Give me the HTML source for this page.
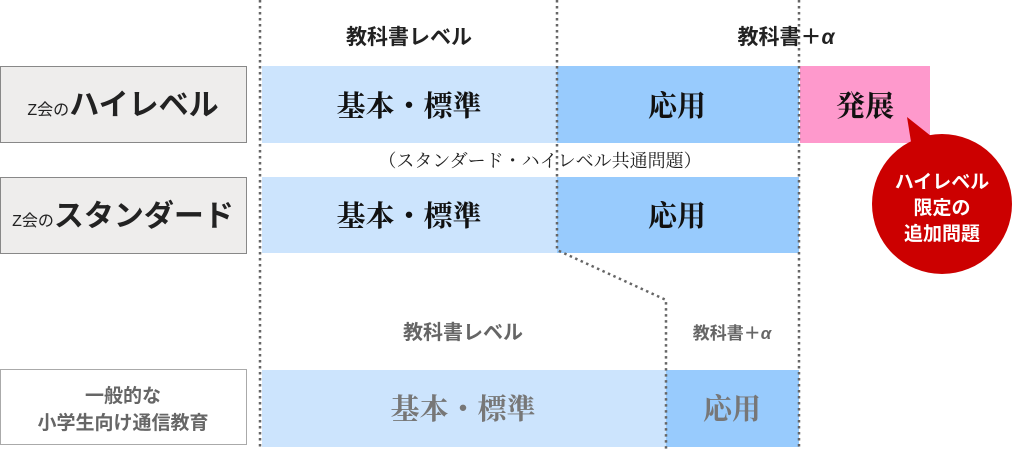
<!DOCTYPE html>
<html><head><meta charset="utf-8"><style>
body{margin:0;background:#fff;}
svg{display:block;}
.s{font-family:"Liberation Sans","Noto Sans CJK JP",sans-serif;}
.m{font-family:"Liberation Serif","Noto Serif CJK SC",serif;}
</style></head><body>
<svg width="1024" height="449" viewBox="0 0 1024 449" xmlns="http://www.w3.org/2000/svg">
<rect x="0.5" y="66.5" width="246" height="76" fill="#eeedec" stroke="#888"/>
<rect x="0.5" y="177.5" width="246" height="76" fill="#eeedec" stroke="#888"/>
<rect x="0.5" y="369.5" width="246" height="75" fill="#fff" stroke="#aaa"/>
<text class="s" x="123" y="115" text-anchor="middle" fill="#222"><tspan font-size="16">Z会の</tspan><tspan font-size="30" font-weight="bold">ハイレベル</tspan></text>
<text class="s" x="123" y="226" text-anchor="middle" fill="#222"><tspan font-size="16">Z会の</tspan><tspan font-size="30" font-weight="bold">スタンダード</tspan></text>
<text class="s" x="123" y="402" text-anchor="middle" fill="#666" font-size="19" font-weight="bold">一般的な</text>
<text class="s" x="123" y="429" text-anchor="middle" fill="#666" font-size="19" font-weight="bold">小学生向け通信教育</text>
<rect x="262" y="66" width="295" height="77" fill="#cce4fd"/>
<rect x="557" y="66" width="242" height="77" fill="#98cbfd"/>
<rect x="800" y="66" width="130" height="77" fill="#fe99cc"/>
<rect x="262" y="177" width="295" height="76" fill="#cce4fd"/>
<rect x="557" y="177" width="242" height="76" fill="#98cbfd"/>
<rect x="262" y="370" width="404" height="77" fill="#cce4fd"/>
<rect x="666" y="370" width="133" height="77" fill="#98cbfd"/>
<g stroke="#666" stroke-width="2.5" stroke-dasharray="2.5 3.5" fill="none">
<line x1="260" y1="0" x2="260" y2="449"/>
<polyline points="557,0 557,250 666,300 666,449"/>
<line x1="799" y1="0" x2="799" y2="449"/>
</g>
<text class="s" x="409" y="44" text-anchor="middle" font-size="21" font-weight="bold" fill="#222">教科書レベル</text>
<text class="s" x="786" y="44" text-anchor="middle" font-size="21" font-weight="bold" fill="#222">教科書＋<tspan font-style="italic">α</tspan></text>
<text class="s" x="463" y="339" text-anchor="middle" font-size="20" font-weight="bold" fill="#666">教科書レベル</text>
<text class="s" x="732" y="339" text-anchor="middle" font-size="17" font-weight="bold" fill="#666">教科書＋<tspan font-style="italic">α</tspan></text>
<g class="m" font-size="29" font-weight="bold" text-anchor="middle" fill="#111">
<text x="409" y="116">基本・標準</text>
<text x="677" y="116">応用</text>
<text x="865" y="116">発展</text>
<text x="409" y="226">基本・標準</text>
<text x="677" y="226">応用</text>
</g>
<g class="m" font-size="29" font-weight="bold" text-anchor="middle" fill="#777">
<text x="463" y="419">基本・標準</text>
<text x="732" y="419">応用</text>
</g>
<text class="m" x="540" y="167" text-anchor="middle" font-size="18" fill="#222">（スタンダード・ハイレベル共通問題）</text>
<polygon points="907,117 912,148 936,140" fill="#cc0000"/>
<circle cx="942" cy="204" r="70" fill="#cc0000"/>
<g class="s" font-size="19" font-weight="bold" fill="#fff" text-anchor="middle">
<text x="942" y="188">ハイレベル</text>
<text x="942" y="214">限定の</text>
<text x="942" y="240">追加問題</text>
</g>
</svg>
</body></html>
